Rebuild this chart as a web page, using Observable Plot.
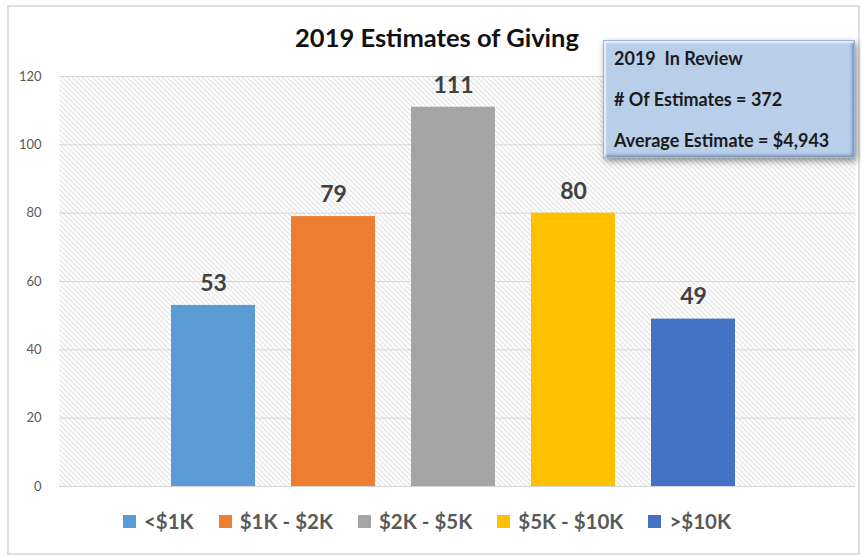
<!DOCTYPE html>
<html>
<head>
<meta charset="utf-8">
<script src="https://cdn.jsdelivr.net/npm/d3@7"></script>
<script src="https://cdn.jsdelivr.net/npm/@observablehq/plot@0.6"></script>
<style>
  html, body { margin: 0; padding: 0; background: #fff; }
  #wrap { position: relative; width: 861px; height: 556px; overflow: hidden; font-family: Lato, "Open Sans", sans-serif; }
  #frame { position: absolute; left: 7px; top: 5px; width: 849px; height: 546px; border: 2px solid #dedede; box-sizing: content-box; pointer-events: none; }
  #title { position: absolute; left: 0; top: 22px; width: 874px; text-align: center; font-size: 25.5px; font-weight: 700; color: #111; }
  #legend { position: absolute; left: 0; top: 509px; width: 854px; display: flex; justify-content: center; gap: 25px; font-size: 20.5px; font-weight: 700; color: #595959; }
  #legend .item { display: flex; align-items: center; gap: 8px; }
  #legend .sw { width: 13px; height: 13px; display: inline-block; }
  #box { position: absolute; left: 603px; top: 40px; width: 252px; height: 118px; box-sizing: border-box;
         background: #b8cee9; border: 1px solid #9db6d8;
         box-shadow: 2px 3px 7px rgba(0,0,0,0.45), inset 2px 2px 2px rgba(255,255,255,0.7), inset -2px -2px 3px rgba(60,90,140,0.5);
         font-size: 18px; font-weight: 700; color: #1b1b1b; padding: 6px 0 0 10px; }
  #box div { height: 41px; line-height: 22px; }
</style>
</head>
<body>
<div id="wrap">
  <div id="chart"></div>
  <div id="frame"></div>
  <div id="title">2019 Estimates of Giving</div>
  <div id="legend"></div>
  <div id="box"></div>
</div>
<script>
const categories = ["<$1K", "$1K - $2K", "$2K - $5K", "$5K - $10K", ">$10K"];
const counts = [53, 79, 111, 80, 49];
const barColors = ["#5B9BD5", "#ED7D31", "#A5A5A5", "#FFC000", "#4472C4"];
const yTicks = [0, 20, 40, 60, 80, 100, 120];
const reviewTitle = "2019  In Review";
const reviewLines = ["# Of Estimates = 372", "Average Estimate = $4,943"];

const data = categories.map((c, i) => ({cat: c, n: counts[i]}));

const chart = Plot.plot({
  width: 861,
  height: 556,
  marginLeft: 59,
  marginRight: 6,
  marginTop: 76,
  marginBottom: 70,
  style: {fontFamily: "Lato, 'Open Sans', sans-serif", background: "transparent"},
  x: {domain: categories, range: [153, 753], paddingInner: 0.3, paddingOuter: 0.15, axis: null},
  y: {domain: [0, 120], axis: null, label: null},
  color: {domain: categories, range: barColors},
  marks: [
    Plot.frame({fill: "url(#hatch)", stroke: null}),
    Plot.gridY(yTicks, {stroke: "#d6d6d6", strokeOpacity: 1, strokeWidth: 1}),
    Plot.axisY(yTicks, {tickSize: 0, tickPadding: 18, fontSize: 13, fill: "#595959", label: null, tickFormat: d => String(d)}),
    Plot.barY(data, {x: "cat", y: "n", fill: "cat"}),
    Plot.text(data, {x: "cat", y: "n", text: d => String(d.n), dy: -22, fontSize: 23, fontWeight: 700, fill: "#404040"})
  ]
});

const svg = d3.select(chart);
const defs = svg.insert("defs", ":first-child");
const pat = defs.append("pattern")
  .attr("id", "hatch").attr("patternUnits", "userSpaceOnUse")
  .attr("width", 5).attr("height", 5);
pat.append("rect").attr("width", 5).attr("height", 5).attr("fill", "#ffffff");
pat.append("path").attr("d", "M-1,-1 L6,6 M-1,4 L1,6 M4,-1 L6,1")
  .attr("stroke", "#c8c8c8").attr("stroke-width", 0.9);

document.getElementById("chart").appendChild(chart);

const legend = d3.select("#legend");
categories.forEach((c, i) => {
  const it = legend.append("div").attr("class", "item");
  it.append("span").attr("class", "sw").style("background", barColors[i]);
  it.append("span").text(c);
});

const box = d3.select("#box");
box.append("div").style("white-space", "pre").text(reviewTitle);
reviewLines.forEach(t => box.append("div").text(t));
</script>
</body>
</html>
